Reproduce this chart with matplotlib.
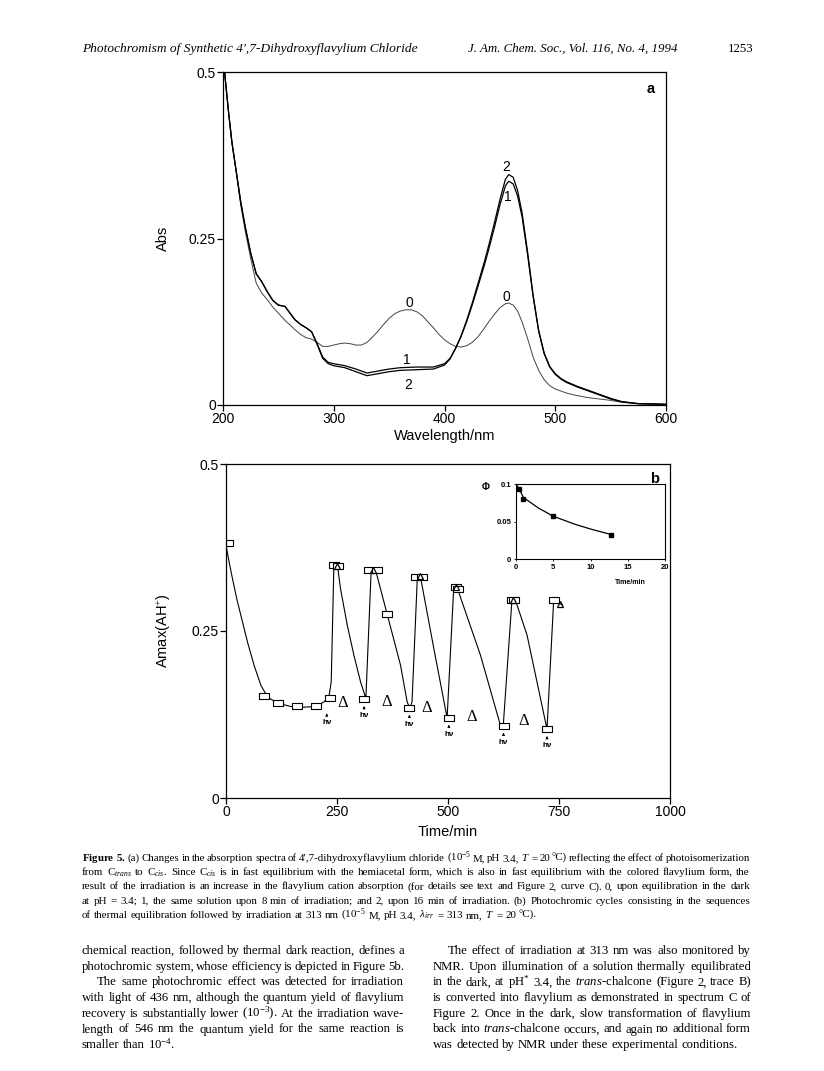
import matplotlib
matplotlib.use("Agg")
import matplotlib.pyplot as plt

plt.rcParams['font.family'] = ['Liberation Sans', 'DejaVu Sans']
plt.rcParams['mathtext.fontset'] = 'custom'
plt.rcParams['mathtext.rm'] = 'Liberation Serif'
plt.rcParams['mathtext.it'] = 'Liberation Serif:italic'
plt.rcParams['mathtext.bf'] = 'Liberation Serif:bold'

# --- Figure 5a: absorption spectra ---
wl_12 = [200, 202, 205, 208, 212, 216, 220, 225, 230, 235, 240, 245, 250, 256, 260,
         265, 270, 275, 280, 285, 290, 295, 300, 310, 320, 330, 340, 350, 360, 375,
         390, 400, 405, 410, 415, 420, 425, 430, 436, 440, 445, 450, 455, 458, 462,
         466, 470, 475, 480, 485, 490, 495, 500, 505, 510, 520, 530, 540, 550, 560,
         575, 600]
abs_1 = [0.53, 0.49, 0.44, 0.395, 0.35, 0.305, 0.268, 0.228, 0.197, 0.185, 0.170,
         0.157, 0.150, 0.148, 0.139, 0.128, 0.121, 0.116, 0.110, 0.092, 0.072, 0.064,
         0.062, 0.059, 0.054, 0.048, 0.051, 0.054, 0.056, 0.057, 0.057, 0.062, 0.070,
         0.085, 0.103, 0.125, 0.150, 0.177, 0.210, 0.234, 0.266, 0.300, 0.329, 0.336,
         0.332, 0.314, 0.283, 0.226, 0.163, 0.111, 0.077, 0.057, 0.046, 0.039, 0.034,
         0.027, 0.021, 0.015, 0.009, 0.005, 0.002, 0.001]
abs_2 = [0.53, 0.49, 0.44, 0.395, 0.35, 0.305, 0.268, 0.228, 0.197, 0.185, 0.170,
         0.157, 0.150, 0.148, 0.139, 0.128, 0.121, 0.116, 0.110, 0.091, 0.070, 0.062,
         0.059, 0.056, 0.050, 0.044, 0.047, 0.050, 0.052, 0.053, 0.054, 0.060, 0.069,
         0.085, 0.104, 0.127, 0.153, 0.181, 0.215, 0.240, 0.273, 0.308, 0.339, 0.346,
         0.342, 0.322, 0.289, 0.230, 0.165, 0.112, 0.078, 0.058, 0.047, 0.040, 0.035,
         0.028, 0.022, 0.016, 0.010, 0.005, 0.002, 0.001]

wl_0 = [200, 202, 205, 208, 212, 216, 220, 225, 230, 235, 240, 245, 250, 256, 260,
        265, 270, 275, 280, 285, 290, 295, 300, 305, 310, 315, 320, 325, 330, 335,
        340, 345, 350, 355, 360, 365, 370, 375, 380, 385, 390, 395, 400, 405, 410,
        415, 420, 425, 430, 435, 440, 445, 450, 455, 458, 462, 466, 470, 475, 480,
        485, 490, 495, 500, 510, 520, 530, 540, 550, 560, 575, 600]
abs_0 = [0.53, 0.49, 0.44, 0.395, 0.35, 0.30, 0.262, 0.22, 0.183, 0.168, 0.158,
         0.147, 0.138, 0.127, 0.121, 0.113, 0.106, 0.101, 0.099, 0.094, 0.088, 0.088,
         0.090, 0.092, 0.093, 0.092, 0.090, 0.090, 0.094, 0.102, 0.111, 0.121, 0.130,
         0.137, 0.141, 0.143, 0.143, 0.140, 0.134, 0.125, 0.116, 0.106, 0.098, 0.092,
         0.088, 0.087, 0.089, 0.094, 0.102, 0.113, 0.125, 0.136, 0.146, 0.152, 0.153,
         0.150, 0.141, 0.125, 0.100, 0.072, 0.052, 0.038, 0.029, 0.024, 0.018, 0.014,
         0.011, 0.009, 0.007, 0.004, 0.002, 0.001]

# --- Figure 5b: photochromic cycles ---
time_line = [0, 8, 15, 25, 34, 49, 64, 79, 94, 116, 146, 176, 202, 221, 232, 237, 243,
             251, 258, 273, 288, 303, 315, 327, 337, 363, 393, 408, 414, 419, 431, 438,
             468, 498, 513, 521, 573, 618, 624, 644, 652, 678, 723, 738, 745, 757]
amax_line = [0.378, 0.350, 0.327, 0.296, 0.272, 0.232, 0.197, 0.168, 0.151, 0.142,
             0.137, 0.136, 0.137, 0.144, 0.152, 0.174, 0.349, 0.348, 0.313, 0.259,
             0.214, 0.174, 0.149, 0.341, 0.341, 0.275, 0.199, 0.144, 0.134, 0.144,
             0.331, 0.331, 0.224, 0.120, 0.316, 0.314, 0.214, 0.109, 0.104, 0.296,
             0.296, 0.244, 0.103, 0.296, 0.294, 0.289]

time_sq = [4, 86, 118, 161, 202, 234, 243, 252, 311, 322, 341, 363, 413, 427, 442,
           502, 517, 523, 625, 644, 648, 723, 739]
amax_sq = [0.381, 0.152, 0.142, 0.138, 0.137, 0.149, 0.349, 0.347, 0.148, 0.342,
           0.342, 0.275, 0.135, 0.331, 0.331, 0.120, 0.316, 0.313, 0.108, 0.297,
           0.297, 0.103, 0.297]
time_tri = [249, 331, 437, 518, 647, 753]
amax_tri = [0.347, 0.342, 0.333, 0.316, 0.297, 0.290]

hv_time = [227, 311, 413, 502, 625, 723]
hv_amax = [0.137, 0.148, 0.135, 0.120, 0.108, 0.103]
dark_time = [262, 363, 453, 553, 670]
dark_amax = [0.142, 0.143, 0.134, 0.122, 0.115]

# inset: quantum yield vs irradiation time
inset_t = [0.45, 1.0, 4.9, 12.8]
inset_phi = [0.093, 0.080, 0.057, 0.032]
fit_t = [0, 0.5, 1, 2, 3, 5, 8, 10, 13]
fit_phi = [0.100, 0.092, 0.082, 0.075, 0.068, 0.057, 0.046, 0.040, 0.032]

W, H = 824, 1071
fig = plt.figure(figsize=(W / 100, H / 100), dpi=100)


def ax_rect(left, top, right, bottom):
    return [left / W, 1 - bottom / H, (right - left) / W, (bottom - top) / H]


def style_axes(ax):
    for s in ax.spines.values():
        s.set_linewidth(0.9)
    ax.tick_params(direction='out', length=4, width=0.9, labelsize=10, pad=1)


# panel a
ax = fig.add_axes(ax_rect(223, 72, 666, 405))
style_axes(ax)
ax.plot(wl_0, abs_0, color='#444444', lw=0.7)
ax.plot(wl_12, abs_1, color='k', lw=0.9)
ax.plot(wl_12, abs_2, color='k', lw=0.9)
ax.set_xlim(200, 600)
ax.set_ylim(0, 0.5)
ax.set_xticks([200, 300, 400, 500, 600])
ax.set_yticks([0, 0.25, 0.5])
ax.set_yticklabels(['0', '0.25', '0.5'])
ax.set_xlabel('Wavelength/nm', fontsize=10.5)
ax.set_ylabel('Abs', fontsize=10.5)
ax.xaxis.set_label_coords(0.5, -0.072)
ax.yaxis.set_label_coords(-0.12, 0.5)
for x, y, s in [(368, 0.153, '0'), (456, 0.162, '0'), (456, 0.357, '2'),
                (457, 0.312, '1'), (366, 0.068, '1'), (367, 0.030, '2')]:
    ax.text(x, y, s, ha='center', va='center', fontsize=10)
ax.text(0.975, 0.95, 'a', transform=ax.transAxes, ha='right', va='center',
        fontsize=10.5, weight='bold')

# panel b
bx = fig.add_axes(ax_rect(226, 464, 670, 798))
style_axes(bx)
rect = [(-1.3, -1), (1.3, -1), (1.3, 1), (-1.3, 1), (-1.3, -1)]
bx.plot(time_line, amax_line, color='k', lw=0.8)
bx.plot(time_sq, amax_sq, ls='none', marker=rect, ms=6.5, mfc='white', mec='k', mew=0.8)
bx.plot(time_tri, amax_tri, ls='none', marker='^', ms=4, mfc='none', mec='k', mew=0.9)
for t, a in zip(hv_time, hv_amax):
    bx.annotate('', xy=(t, a - 0.006), xytext=(t, a - 0.019),
                arrowprops=dict(arrowstyle='-|>', lw=0.5, color='k', mutation_scale=4))
    bx.text(t, a - 0.019, 'h\u03bd', ha='center', va='top', fontsize=5.8, weight='bold')
for t, a in zip(dark_time, dark_amax):
    bx.text(t, a, '\u0394', ha='center', va='center', fontsize=12,
            family='Liberation Serif')
bx.set_xlim(0, 1000)
bx.set_ylim(0, 0.5)
bx.set_xticks([0, 250, 500, 750, 1000])
bx.set_yticks([0, 0.25, 0.5])
bx.set_yticklabels(['0', '0.25', '0.5'])
bx.set_xlabel('Time/min', fontsize=10.5)
bx.set_ylabel('Amax(AH$^{+}$)', fontsize=10.5)
bx.xaxis.set_label_coords(0.5, -0.082)
bx.yaxis.set_label_coords(-0.12, 0.5)
bx.text(0.975, 0.955, 'b', transform=bx.transAxes, ha='right', va='center',
        fontsize=10.5, weight='bold')

# inset
ix = fig.add_axes(ax_rect(516, 484, 665, 559))
ix.plot(fit_t, fit_phi, color='k', lw=0.9)
ix.plot(inset_t, inset_phi, ls='none', marker='s', ms=2.5, color='k')
ix.set_xlim(0, 20)
ix.set_ylim(0, 0.1)
ix.set_xticks([0, 5, 10, 15, 20])
ix.set_yticks([0, 0.05, 0.1])
ix.set_yticklabels(['0', '0.05', '0.1'])
for s in ix.spines.values():
    s.set_linewidth(0.8)
ix.tick_params(direction='out', length=1.5, width=0.6, labelsize=5.5, pad=2)
for lab in ix.get_xticklabels() + ix.get_yticklabels():
    lab.set_fontweight('bold')
ix.text(0.77, -0.32, 'Time/min', transform=ix.transAxes, ha='center', va='center',
        fontsize=5, weight='bold')
ix.text(-0.2, 0.96, '\u03a6', transform=ix.transAxes, ha='center', va='center',
        fontsize=7, weight='bold')


# --- page text ---
def fxy(x, y):
    return x / W, 1 - y / H


def set_line(text, x0, x1, y, size, justify=True, **kw):
    words = text.split()
    r = fig.canvas.get_renderer()
    while True:
        objs = [fig.text(*fxy(x0, y), w, fontsize=size, va='baseline', ha='left',
                         family='Liberation Serif', **kw) for w in words]
        widths = [o.get_window_extent(r).width for o in objs]
        if justify and len(words) > 1:
            gap = (x1 - x0 - sum(widths)) / (len(words) - 1)
        else:
            gap = size * 100 / 72 * 0.25
        if gap >= 1.8 or not justify:
            break
        for o in objs:
            o.remove()
        size -= 0.1
    x = x0
    for o, w in zip(objs, widths):
        o.set_x(x / W)
        x += w + gap


fig.text(*fxy(82, 52), 'Photochromism of Synthetic 4\u2032,7-Dihydroxyflavylium Chloride',
         family='Liberation Serif', style='italic', fontsize=9.6, va='baseline')
fig.text(*fxy(468, 52), 'J. Am. Chem. Soc., Vol. 116, No. 4, 1994',
         family='Liberation Serif', style='italic', fontsize=9.3, va='baseline')
fig.text(*fxy(728, 52), '1253', family='Liberation Serif', fontsize=9.3, va='baseline')

caption = [
    "$\\mathbf{Figure}$ $\\mathbf{5.}$ (a) Changes in the absorption spectra of 4\u2032,7-dihydroxyflavylium "
    "chloride (10$^{-5}$ M, pH 3.4, $T$ = 20 \u00b0C) reflecting the effect of photoisomerization",
    "from $\\mathrm{C}_{trans}$ to $\\mathrm{C}_{cis}$. Since $\\mathrm{C}_{cis}$ is in fast equilibrium with the "
    "hemiacetal form, which is also in fast equilibrium with the colored flavylium form, the",
    "result of the irradiation is an increase in the flavylium cation absorption (for details see "
    "text and Figure 2, curve C). 0, upon equilibration in the dark",
    "at pH = 3.4; 1, the same solution upon 8 min of irradiation; and 2, upon 16 min of irradiation. "
    "(b) Photochromic cycles consisting in the sequences",
    "of thermal equilibration followed by irradiation at 313 nm (10$^{-5}$ M, pH 3.4, "
    "$\\lambda_{irr}$ = 313 nm, $T$ = 20 \u00b0C).",
]
for i, line in enumerate(caption):
    set_line(line, 82, 750, 861 + i * 14.2, 7.9, justify=(i < len(caption) - 1))

left_col = [
    "chemical reaction, followed by thermal dark reaction, defines a",
    "photochromic system, whose efficiency is depicted in Figure 5b.",
    "The same photochromic effect was detected for irradiation",
    "with light of 436 nm, although the quantum yield of flavylium",
    "recovery is substantially lower (10$^{-3}$). At the irradiation wave-",
    "length of 546 nm the quantum yield for the same reaction is",
    "smaller than 10$^{-4}$.",
]
right_col = [
    "The effect of irradiation at 313 nm was also monitored by",
    "NMR. Upon illumination of a solution thermally equilibrated",
    "in the dark, at pH$^{*}$ 3.4, the $\\mathit{trans}$-chalcone (Figure 2, trace B)",
    "is converted into flavylium as demonstrated in spectrum C of",
    "Figure 2. Once in the dark, slow transformation of flavylium",
    "back into $\\mathit{trans}$-chalcone occurs, and again no additional form",
    "was detected by NMR under these experimental conditions.",
]
for i, line in enumerate(left_col):
    x0 = 97 if i == 2 else 82
    set_line(line, x0, 404, 954 + i * 15.7, 9.2, justify=(i != 6))
for i, line in enumerate(right_col):
    x0 = 448 if i == 0 else 433
    set_line(line, x0, 751, 954 + i * 15.7, 9.2, justify=(i != 6))

fig.savefig('out.png', dpi=100)
